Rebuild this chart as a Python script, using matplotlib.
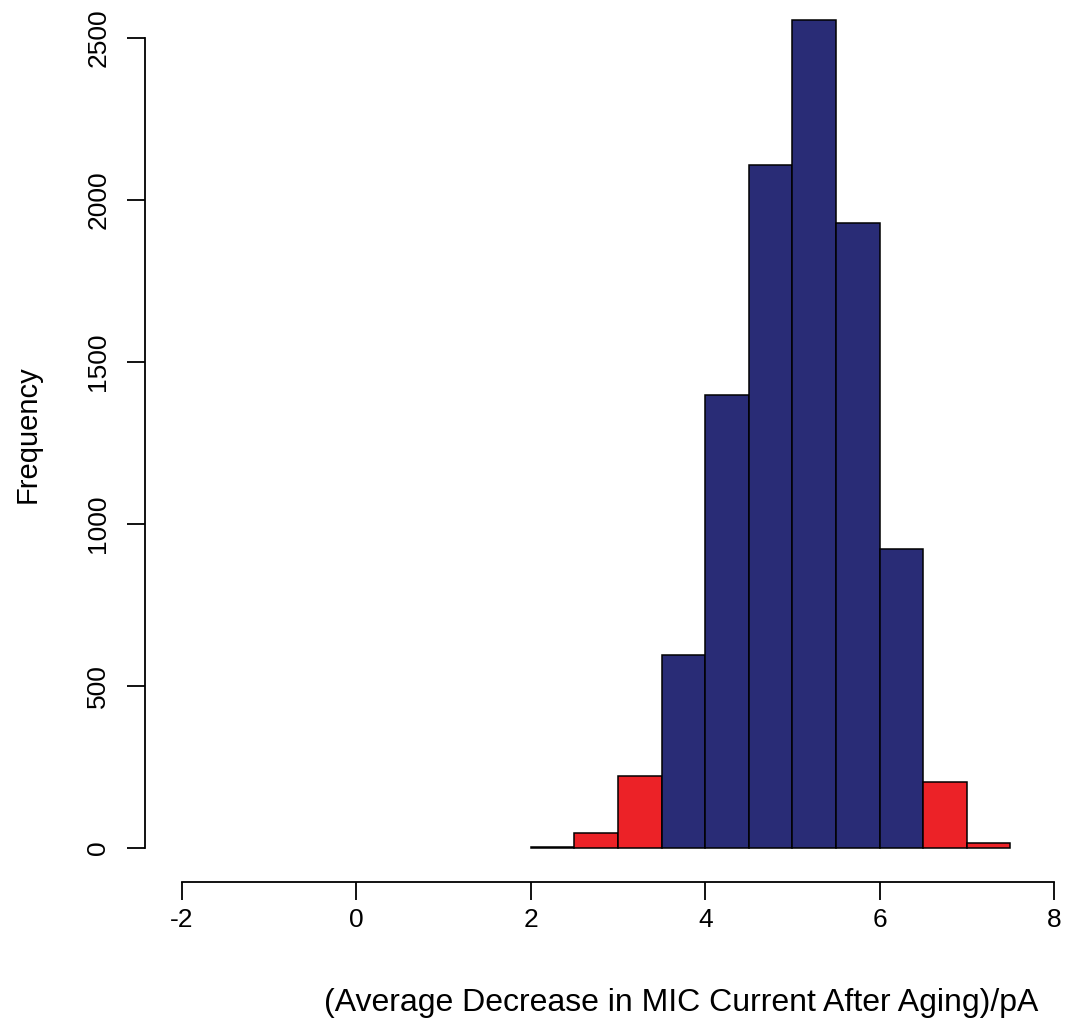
import matplotlib
matplotlib.use("Agg")
import matplotlib.pyplot as plt
import numpy as np

plt.rcParams['font.family'] = ['Liberation Sans', 'DejaVu Sans']

bin_left = [2.0, 2.5, 3.0, 3.5, 4.0, 4.5, 5.0, 5.5, 6.0, 6.5, 7.0]
bin_width = 0.5
counts = [3, 46, 222, 596, 1398, 2108, 2555, 1929, 923, 204, 15]
tail = [True, True, True, False, False, False, False, False, False, True, True]

x_ticks = [-2, 0, 2, 4, 6, 8]
y_ticks = [0, 500, 1000, 1500, 2000, 2500]

blue = '#292c76'
red = '#ec2227'

W, H = 1066, 1028
fig = plt.figure(figsize=(W/100, H/100), dpi=100)
left_px, right_px = 145, 1063
bottom_px, top_px = 882, 6
ax = fig.add_axes([left_px/W, 1 - bottom_px/H, (right_px-left_px)/W, (bottom_px-top_px)/H])

colors = [red if t else blue for t in tail]
ax.bar(bin_left, counts, width=bin_width, align='edge', color=colors,
       edgecolor='black', linewidth=1.1)

# x: -2 -> 182px, 8 -> 1054px
ppu = (1054 - 182) / 10.0
ax.set_xlim(-2 - (182 - left_px)/ppu, 8 + (right_px - 1054)/ppu)
# y: 0 -> 848px, 2500 -> 38px
ppy = (848 - 38) / 2500.0
ax.set_ylim(-(bottom_px - 848)/ppy, 2500 + (38 - top_px)/ppy)

for s in ['top', 'right']:
    ax.spines[s].set_visible(False)
ax.spines['left'].set_bounds(0, 2500)
ax.spines['bottom'].set_bounds(-2, 8)
ax.spines['left'].set_linewidth(1.3)
ax.spines['bottom'].set_linewidth(1.3)

ax.set_xticks(x_ticks)
ax.set_xticklabels([str(v) for v in x_ticks])
ax.set_yticks(y_ticks)
ax.set_yticklabels([str(v) for v in y_ticks], rotation=90, va='center')
ax.tick_params(axis='both', length=13, width=1.3, labelsize=19, colors='black')
ax.tick_params(axis='x', pad=6)
ax.tick_params(axis='y', pad=12)

fig.text(681/W, 1 - 1003/H, '(Average Decrease in MIC Current After Aging)/pA',
         fontsize=23, ha='center', va='center')
fig.text(28/W, 1 - 434/H, 'Frequency', fontsize=21, rotation=90,
         ha='center', va='center')

fig.savefig('out.png', dpi=100)
